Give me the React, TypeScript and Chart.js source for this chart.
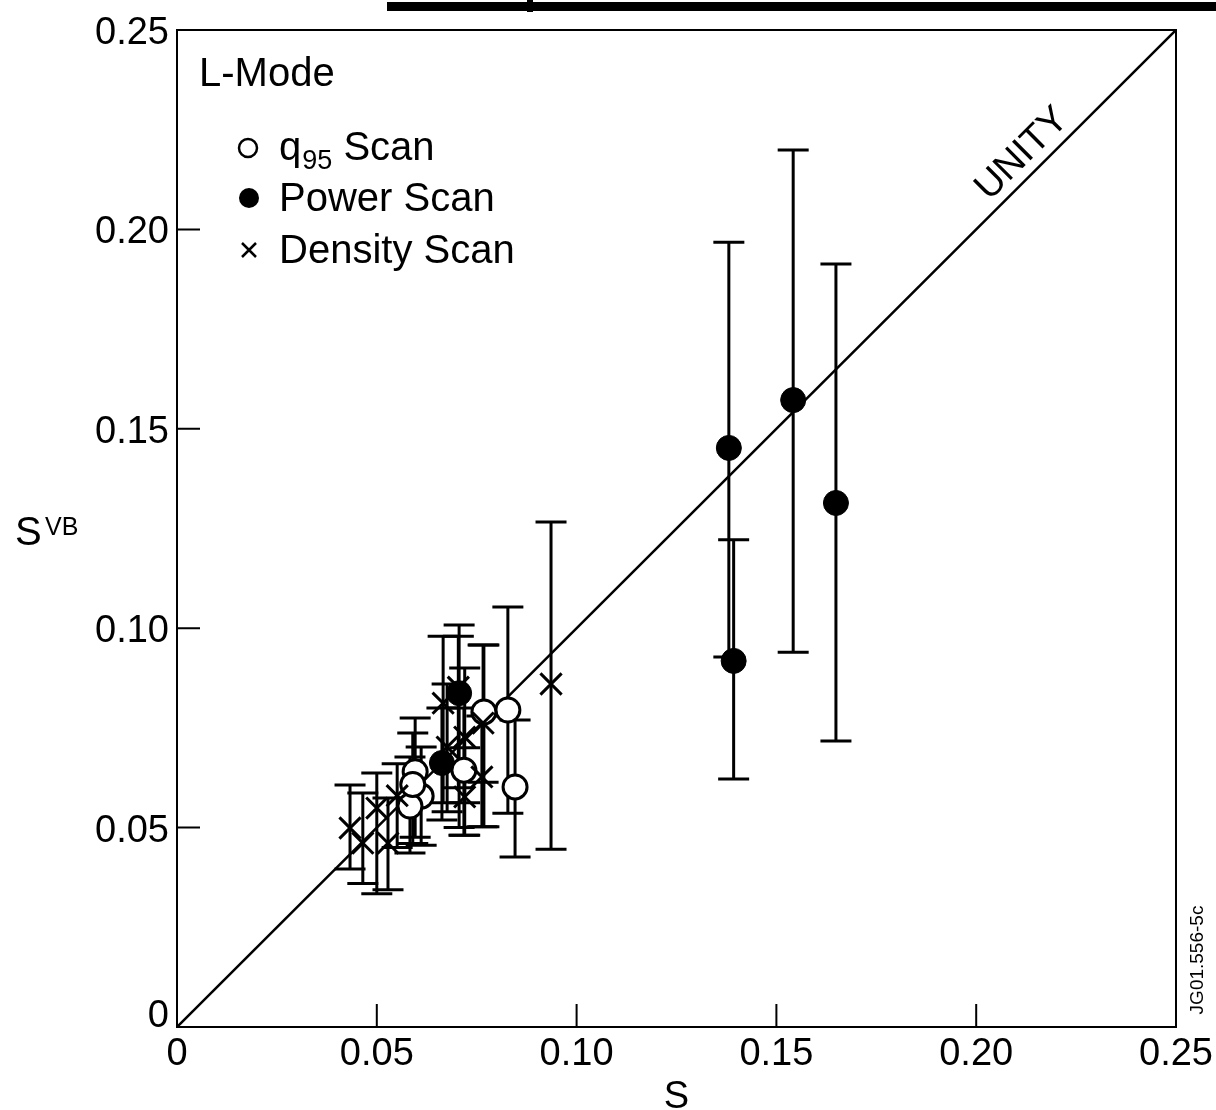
import React, { useEffect, useRef } from "react";
import { Chart, registerables } from "chart.js";

Chart.register(...registerables);

// ---- tick values / labels ----
const tickValues = [0, 0.05, 0.1, 0.15, 0.2, 0.25];
const tickLabels = ["0", "0.05", "0.10", "0.15", "0.20", "0.25"];

// ---- q95 scan (open circles) ----
const q95X = [0.0828, 0.0846, 0.0768, 0.0718, 0.0611, 0.0583, 0.0596, 0.059];
const q95Y = [0.0795, 0.0602, 0.079, 0.0644, 0.0579, 0.0554, 0.064, 0.0608];
const q95Lo = [0.0536, 0.0426, 0.0502, 0.0481, 0.0456, 0.0436, 0.0476, 0.046];
const q95Hi = [0.1053, 0.077, 0.0958, 0.08, 0.0702, 0.0677, 0.0775, 0.0737];

// ---- power scan (filled circles) ----
const powerX = [0.1381, 0.1542, 0.1649, 0.1393, 0.0706, 0.0663];
const powerY = [0.1452, 0.1572, 0.1314, 0.0918, 0.0837, 0.0662];
const powerLo = [0.0928, 0.094, 0.0717, 0.0622, 0.05, 0.0519];
const powerHi = [0.1968, 0.2199, 0.1913, 0.1222, 0.1008, 0.08];

// ---- density scan (crosses) ----
const densX = [0.0936, 0.0433, 0.0465, 0.05, 0.0528, 0.0551, 0.0704, 0.0666, 0.0766, 0.072, 0.0676, 0.0763, 0.072];
const densY = [0.086, 0.0499, 0.0461, 0.0549, 0.0461, 0.058, 0.0852, 0.0812, 0.0762, 0.0727, 0.0702, 0.0627, 0.0577];
const densLo = [0.0446, 0.0396, 0.036, 0.0334, 0.0344, 0.045, 0.06, 0.0562, 0.0614, 0.0562, 0.054, 0.0502, 0.0481];
const densHi = [0.1266, 0.0607, 0.0587, 0.0637, 0.0574, 0.066, 0.098, 0.098, 0.0958, 0.09, 0.086, 0.078, 0.07];

// ---- unity line ----
const unityX = [0, 0.25];
const unityY = [0, 0.25];

const FONT = '"Liberation Sans", Arial, Helvetica, sans-serif';

const toPts = (xs: number[], ys: number[]) => xs.map((v, i) => ({ x: v, y: ys[i] }));

const decor = {
  id: "decor",
  beforeDatasetsDraw(chart: any) {
    const { ctx, scales } = chart;
    const x = scales.x;
    const y = scales.y;
    ctx.save();
    ctx.strokeStyle = "#000";
    ctx.lineWidth = 3;
    ctx.lineCap = "butt";
    const groups: [number[], number[], number[]][] = [
      [q95X, q95Lo, q95Hi],
      [powerX, powerLo, powerHi],
      [densX, densLo, densHi],
    ];
    const cap = 15.5;
    for (const [xs, lo, hi] of groups) {
      for (let i = 0; i < xs.length; i++) {
        const px = x.getPixelForValue(xs[i]);
        const yl = y.getPixelForValue(lo[i]);
        const yh = y.getPixelForValue(hi[i]);
        ctx.beginPath();
        ctx.moveTo(px, yl);
        ctx.lineTo(px, yh);
        ctx.moveTo(px - cap, yl);
        ctx.lineTo(px + cap, yl);
        ctx.moveTo(px - cap, yh);
        ctx.lineTo(px + cap, yh);
        ctx.stroke();
      }
    }
    ctx.restore();
  },
  afterDraw(chart: any) {
    const { ctx, scales, chartArea } = chart;
    const x = scales.x;
    const y = scales.y;
    const { left, right, top, bottom } = chartArea;
    ctx.save();
    ctx.fillStyle = "#000";
    ctx.strokeStyle = "#000";

    // frame
    ctx.lineWidth = 2;
    ctx.strokeRect(left, top, right - left, bottom - top);

    // inward ticks
    ctx.beginPath();
    for (const v of tickValues) {
      const px = x.getPixelForValue(v);
      ctx.moveTo(px, bottom);
      ctx.lineTo(px, bottom - 23);
      const py = y.getPixelForValue(v);
      ctx.moveTo(left, py);
      ctx.lineTo(left + 23, py);
    }
    ctx.stroke();

    // tick labels
    ctx.font = `38px ${FONT}`;
    ctx.textBaseline = "alphabetic";
    ctx.textAlign = "center";
    tickValues.forEach((v, i) => {
      ctx.fillText(tickLabels[i], x.getPixelForValue(v), 1065);
    });
    ctx.textAlign = "right";
    tickValues.forEach((v, i) => {
      const py = y.getPixelForValue(v);
      const base = v === 0 ? bottom : py + 14;
      ctx.fillText(tickLabels[i], 169, base);
    });

    // axis titles
    ctx.textAlign = "center";
    ctx.fillText("S", (left + right) / 2, 1108);
    ctx.textAlign = "left";
    ctx.font = `40px ${FONT}`;
    ctx.fillText("S", 15, 545);
    ctx.font = `25px ${FONT}`;
    ctx.fillText("VB", 45, 535);

    // legend block
    ctx.font = `40px ${FONT}`;
    ctx.fillText("L-Mode", 199, 86);
    // q95
    ctx.lineWidth = 2.5;
    ctx.beginPath();
    ctx.arc(248, 148, 9, 0, Math.PI * 2);
    ctx.stroke();
    ctx.fillText("q", 279, 160);
    const qW = ctx.measureText("q").width;
    ctx.font = `27px ${FONT}`;
    ctx.fillText("95", 279 + qW + 1, 169);
    const nW = ctx.measureText("95").width;
    ctx.font = `40px ${FONT}`;
    ctx.fillText(" Scan", 279 + qW + 1 + nW, 160);
    // power
    ctx.beginPath();
    ctx.arc(249, 198, 10, 0, Math.PI * 2);
    ctx.fill();
    ctx.fillText("Power Scan", 279, 211);
    // density
    ctx.beginPath();
    ctx.moveTo(242, 243);
    ctx.lineTo(256, 257);
    ctx.moveTo(256, 243);
    ctx.lineTo(242, 257);
    ctx.stroke();
    ctx.fillText("Density Scan", 279, 263);

    // UNITY label along the line
    const ux = x.getPixelForValue(0.2152);
    const uy = y.getPixelForValue(0.2152);
    const ang = Math.atan2(
      y.getPixelForValue(unityY[1]) - y.getPixelForValue(unityY[0]),
      x.getPixelForValue(unityX[1]) - x.getPixelForValue(unityX[0])
    );
    ctx.save();
    ctx.translate(ux, uy);
    ctx.rotate(ang);
    ctx.font = `38px ${FONT}`;
    ctx.textAlign = "center";
    ctx.fillText("UNITY", 0, -10.5);
    ctx.restore();

    // figure id
    ctx.save();
    ctx.translate(1196, 960);
    ctx.rotate(-Math.PI / 2);
    ctx.font = `19px ${FONT}`;
    ctx.textAlign = "center";
    ctx.fillText("JG01.556-5c", 0, 7);
    ctx.restore();

    // cropped title underline at the top
    ctx.fillRect(387, 2, 829, 9);
    ctx.fillRect(527, 0, 6, 12);

    ctx.restore();
  },
};

export default function App() {
  const ref = useRef<HTMLCanvasElement | null>(null);

  useEffect(() => {
    if (!ref.current) return;
    const chart = new Chart(ref.current, {
      type: "scatter",
      data: {
        datasets: [
          {
            label: "Density Scan",
            data: toPts(densX, densY),
            pointStyle: "crossRot",
            pointRadius: 15,
            borderColor: "#000",
            backgroundColor: "#000",
            borderWidth: 3,
          },
          {
            label: "q95 Scan",
            data: toPts(q95X, q95Y),
            pointStyle: "circle",
            pointRadius: 12,
            borderColor: "#000",
            backgroundColor: "#fff",
            borderWidth: 3,
          },
          {
            label: "Power Scan",
            data: toPts(powerX, powerY),
            pointStyle: "circle",
            pointRadius: 12.5,
            borderColor: "#000",
            backgroundColor: "#000",
            borderWidth: 1,
          },
          {
            label: "Unity",
            type: "line",
            data: toPts(unityX, unityY),
            borderColor: "#000",
            borderWidth: 2.5,
            pointRadius: 0,
            fill: false,
            showLine: true,
          } as any,
        ],
      },
      options: {
        responsive: false,
        animation: false,
        devicePixelRatio: 1,
        events: [],
        layout: { padding: { left: 0, top: 30, right: 40, bottom: 0 } },
        plugins: { legend: { display: false }, tooltip: { enabled: false } },
        scales: {
          x: {
            type: "linear",
            min: 0,
            max: 0.25,
            grid: { display: false },
            border: { display: false },
            ticks: { display: false },
            afterFit: (s: any) => {
              s.height = 83;
            },
          },
          y: {
            type: "linear",
            min: 0,
            max: 0.25,
            grid: { display: false },
            border: { display: false },
            ticks: { display: false },
            afterFit: (s: any) => {
              s.width = 177;
            },
          },
        },
      },
      plugins: [decor],
    } as any);
    return () => chart.destroy();
  }, []);

  return (
    <div style={{ position: "absolute", left: 0, top: 0, width: 1216, height: 1110, background: "#fff" }}>
      <canvas ref={ref} width={1216} height={1110} style={{ display: "block" }} />
    </div>
  );
}
